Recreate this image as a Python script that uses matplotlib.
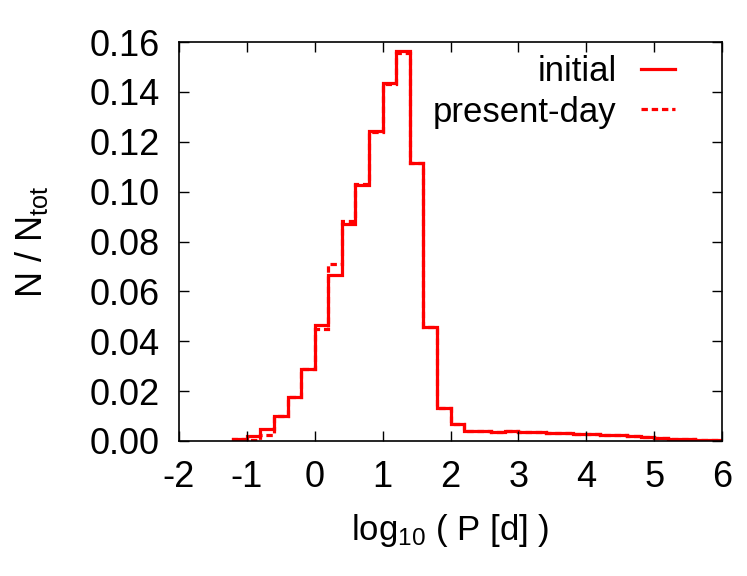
import numpy as np
import matplotlib.pyplot as plt

# bin edges in log10(P [d])
edges = np.round(np.arange(-1.2, 6.01, 0.2), 2)

initial = [0.0010, 0.0020, 0.0047, 0.0101, 0.0178, 0.0289, 0.0465, 0.0665,
           0.0870, 0.1026, 0.1244, 0.1434, 0.1565, 0.1115, 0.0457, 0.0131,
           0.0067, 0.0040, 0.0040, 0.0038, 0.0040, 0.0036, 0.0035, 0.0034,
           0.0032, 0.0030, 0.0028, 0.0026, 0.0024, 0.0019, 0.0016, 0.0014,
           0.0010, 0.0008, 0.0006, 0.0004]

present = [0.0010, 0.0003, 0.0024, 0.0101, 0.0178, 0.0289, 0.0450, 0.0708,
           0.0882, 0.1030, 0.1240, 0.1430, 0.1555, 0.1115, 0.0457, 0.0131,
           0.0067, 0.0040, 0.0040, 0.0038, 0.0040, 0.0036, 0.0035, 0.0034,
           0.0032, 0.0030, 0.0028, 0.0026, 0.0024, 0.0019, 0.0016, 0.0014,
           0.0010, 0.0008, 0.0006, 0.0004]

plt.rcParams['font.family'] = ['Liberation Sans', 'DejaVu Sans']
plt.rcParams['mathtext.default'] = 'regular'
plt.rcParams['axes.unicode_minus'] = False
fs = 26

fig = plt.figure(figsize=(7.47, 5.76), dpi=100)
ax = fig.add_axes([179 / 747, 135 / 576, 543 / 747, 399 / 576])

ax.stairs(initial, edges, color='red', lw=2.3, label='initial')
ax.stairs(present, edges, color='red', lw=2.3, ls=(0, (2.0, 1.2)),
          label='present-day')

ax.set_xlim(-2, 6)
ax.set_ylim(0, 0.16)
ax.set_xticks(np.arange(-2, 7, 1))
ax.set_yticks(np.arange(0, 0.161, 0.02))
ax.set_yticklabels(['%.2f' % v for v in np.arange(0, 0.161, 0.02)])
ax.tick_params(direction='in', length=7, width=1, top=True, right=True,
               labelsize=fs)
ax.tick_params(axis='x', pad=14)
ax.tick_params(axis='y', pad=14)
for s in ax.spines.values():
    s.set_linewidth(1.2)

ax.set_xlabel('log$_{10}$ ( P [d] )', fontsize=25, labelpad=12)
ax.set_ylabel('N / N$_{tot}$', fontsize=26, labelpad=28)

ax.legend(loc='upper right', frameon=False, markerfirst=False, fontsize=25,
          handlelength=1.0, handletextpad=0.7, labelspacing=0.22,
          borderaxespad=0.0, borderpad=0.2, bbox_to_anchor=(0.927, 0.985))

fig.savefig('out.png', dpi=100)
